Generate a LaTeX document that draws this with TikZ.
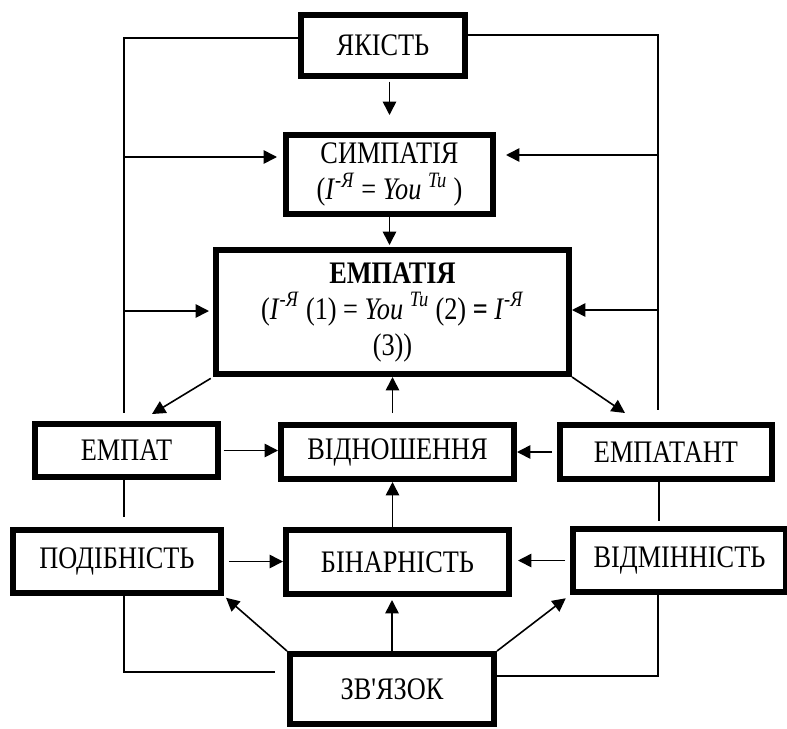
\documentclass[tikz,border=0pt]{standalone}
\usepackage{fontspec}
\setmainfont{Liberation Serif}[Ligatures=TeXOff, FakeStretch=0.84]
\usetikzlibrary{arrows.meta}
\usetikzlibrary{positioning,calc}

\begin{document}
\begin{tikzpicture}[
         x=0.75pt, y=-0.75pt,
         every node/.style = {font=\fontsize{23.5}{24}\selectfont},
         block/.style = {draw, line width=4.5pt, align=center, inner sep=0pt},
         twoline/.style = {font=\fontsize{23.5}{27}\selectfont},
         link/.style = {line width=1.2pt},
         arr/.style = {line width=1.2pt, -{Triangle[length=10pt,width=10pt]}}]

   \useasboundingbox (0,0) rectangle (787,728);

   % top
   \node[block, minimum width=123pt, minimum height=45.75pt]    (yakist) at (383,45.5) {ЯКІСТЬ};
   \node[block, twoline, minimum width=155.25pt, minimum height=59.25pt] (sympatiia) at (389.5,174.5)
      {СИМПАТІЯ\\(\textit{I}\textsuperscript{-\textit{Я}} = \textit{You}~\textsuperscript{\textit{Tu}}~)};
   \node[block, twoline, minimum width=264.75pt, minimum height=93pt] (empatiia) at (392.5,312)
      {\textbf{ЕМПАТІЯ}\\(\textit{I}\textsuperscript{-\textit{Я}} (1) = \textit{You}~\textsuperscript{\textit{Tu}} (2) \textbf{=} \textit{I}\textsuperscript{-\textit{Я}}\\(3))};

   % middle row
   \node[block, minimum width=137.25pt, minimum height=39.75pt] (empat) at (126.5,450.5) {ЕМПАТ};
   \node[block, minimum width=174.75pt, minimum height=40.5pt]  (vidnoshennia) at (397.5,452) {ВІДНОШЕННЯ};
   \node[block, minimum width=159pt, minimum height=40.5pt]     (empatant) at (666,452) {ЕМПАТАНТ};

   % bottom rows
   \node[block, minimum width=156pt, minimum height=47.25pt]    (podibnist) at (117,561.5) {ПОДІБНІСТЬ};
   \node[block, minimum width=167.25pt, minimum height=48pt]    (binarnist) at (397.5,562) {БІНАРНІСТЬ};
   \node[block, minimum width=159.75pt, minimum height=47.25pt] (vidminnist) at (679.5,560.5) {ВІДМІННІСТЬ};
   \node[block, minimum width=153pt, minimum height=52.5pt]     (zvjazok) at (392,689) {ЗВ'ЯЗОК};

   % frame lines
   \coordinate (tl) at (124,38);
   \coordinate (ll) at (124,413);
   \coordinate (tr) at (658,35);
   \coordinate (lr) at (658,410);
   \coordinate (l1) at (124,157);
   \coordinate (l2) at (124,311);
   \coordinate (r1) at (658,155);
   \coordinate (r2) at (658,310);
   \draw[link] (yakist.west |- tl) -- (tl) -- (ll);
   \draw[link] (yakist.east |- tr) -- (tr) -- (lr);

   \coordinate (em1) at (124,517);
   \coordinate (em2) at (659,521);
   \draw[link] (empat.south -| em1) -- (em1);
   \draw[link] (empatant.south -| em2) -- (em2);

   \coordinate (bl) at (124,672);
   \coordinate (br) at (658,676);
   \draw[link, shorten >=9pt] (podibnist.south -| bl) -- (bl) -- (zvjazok.west |- bl);
   \draw[link, shorten >=-3pt] (vidminnist.south -| br) -- (br) -- (zvjazok.east |- br);

   % arrows down
   \draw[arr, shorten <=2pt, shorten >=12.75pt] (yakist.south -| sympatiia) -- (sympatiia.north);
   \draw[arr, shorten >=4.5pt] (l1) -- (sympatiia.west |- l1);
   \draw[arr, shorten >=7.5pt] (r1) -- (sympatiia.east |- r1);
   \draw[arr, shorten >=1.5pt] (sympatiia.south) -- (empatiia.north -| sympatiia);
   \draw[arr, shorten >=3pt] (l2) -- (empatiia.west |- l2);
   \draw[arr] (r2) -- (empatiia.east |- r2);

   \coordinate (d1) at (152,414);
   \coordinate (d2) at (625,413);
   \draw[arr, shorten <=2pt] (empatiia.south west) -- (d1);
   \draw[arr] (empatiia.south east) -- (d2);

   % arrows to the centre
   \draw[arr, shorten <=6.75pt] (vidnoshennia.north -| empatiia) -- (empatiia.south);
   \draw[arr, shorten <=2pt] (empat.east) -- (vidnoshennia.west |- empat.east);
   \draw[arr, shorten <=3.75pt] (empatant.west) -- (vidnoshennia.east |- empatant.west);
   \draw[arr] (binarnist.north -| empatiia) -- (vidnoshennia.south -| empatiia);
   \draw[arr, shorten <=3.75pt] (podibnist.east) -- (binarnist.west |- podibnist.east);
   \draw[arr, shorten <=3.75pt, shorten >=4.5pt] (vidminnist.west) -- (binarnist.east |- vidminnist.west);

   % from ЗВ'ЯЗОК
   \draw[arr, shorten >=2.25pt] (zvjazok.north) -- (binarnist.south -| zvjazok);
   \draw[arr, shorten >=2pt] (zvjazok.north west) -- (podibnist.south east);
   \draw[arr, shorten >=4pt] (zvjazok.north east) -- (vidminnist.south west);

\end{tikzpicture}
\end{document}
